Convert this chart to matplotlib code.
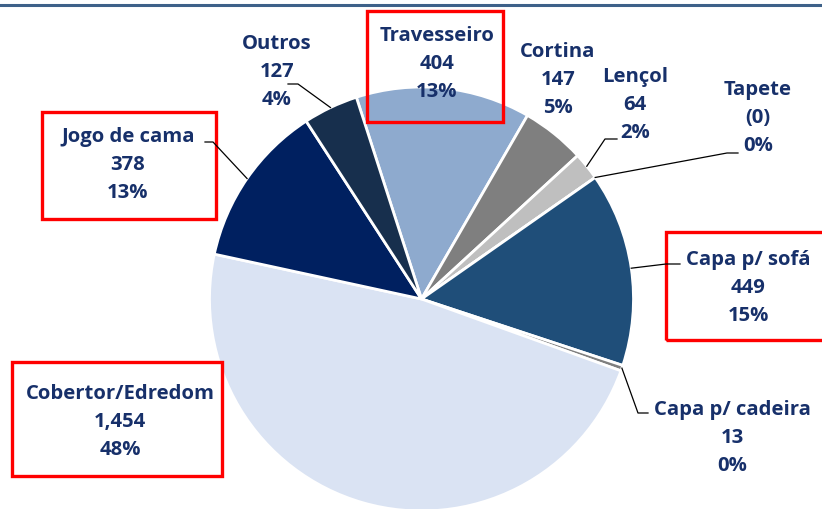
import numpy as np
import matplotlib.pyplot as plt
from matplotlib.patches import Rectangle
from matplotlib.lines import Line2D

categories = ["Travesseiro", "Cortina", "Lençol", "Tapete", "Capa p/ sofá",
              "Capa p/ cadeira", "Cobertor/Edredom", "Jogo de cama", "Outros"]
values = [404, 147, 64, 0, 449, 13, 1454, 378, 127]
percents = [13, 5, 2, 0, 15, 0, 48, 13, 4]
colors = ["#8EAACE", "#7F7F7F", "#BFBFBF", "#A6A6A6", "#1F4E79",
          "#7F7F7F", "#DAE3F3", "#002060", "#172F4D"]

W, H = 822, 510
text_color = "#17306A"

fig = plt.figure(figsize=(W / 100, H / 100), dpi=100)
ax = fig.add_axes([0, 0, 1, 1])

cx, cy, r = 421.5, H - 300, 212
wedges, _ = ax.pie(values, colors=colors, startangle=107.9, counterclock=False,
                   center=(cx, cy), radius=r,
                   wedgeprops=dict(edgecolor="white", linewidth=2))
ax.set_xlim(0, W)
ax.set_ylim(0, H)
ax.set_aspect("equal")
ax.axis("off")

# label centre (pixel, from top) and leader elbow points
label_pos = {
    "Travesseiro": (437, 64),
    "Cortina": (558, 80),
    "Lençol": (635, 105),
    "Tapete": (758, 118),
    "Capa p/ sofá": (748, 288),
    "Capa p/ cadeira": (732, 438),
    "Cobertor/Edredom": (120, 422),
    "Jogo de cama": (128, 165),
    "Outros": (277, 72),
}
leaders = {
    "Outros": [(288, 85), (298, 85)],
    "Jogo de cama": [(205, 143), (213, 143)],
    "Lençol": [(617, 140), (605, 140)],
    "Tapete": [(738, 154), (727, 154)],
    "Capa p/ sofá": [(680, 265), (666, 265)],
    "Capa p/ cadeira": [(648, 414), (638, 414)],
}
boxes = {
    "Travesseiro": (367, 12, 503, 123),
    "Jogo de cama": (42, 113, 216, 220),
    "Capa p/ sofá": (666, 233, 830, 341),
    "Cobertor/Edredom": (12, 363, 222, 477),
}

for w, name, v, p in zip(wedges, categories, values, percents):
    vtxt = f"{v:,}" if v else "(0)"
    txt = f"{name}\n{vtxt}\n{p}%"
    x, y = label_pos[name]
    ax.text(x, H - y, txt, ha="center", va="center", color=text_color,
            fontsize=14.6, fontweight="bold", family=["Open Sans", "DejaVu Sans"],
            linespacing=1.55)
    if name in leaders:
        ang = np.deg2rad((w.theta1 + w.theta2) / 2)
        ax_pt = (cx + r * np.cos(ang), cy + r * np.sin(ang))
        pts = leaders[name]
        xs = [pts[0][0], pts[1][0], ax_pt[0]]
        ys = [H - pts[0][1], H - pts[1][1], ax_pt[1]]
        ax.plot(xs, ys, color="black", lw=0.9, clip_on=False)
    if name in boxes:
        x0, y0, x1, y1 = boxes[name]
        ax.add_patch(Rectangle((x0, H - y1), x1 - x0, y1 - y0, fill=False,
                               edgecolor="#FF0000", lw=2.4, clip_on=False))

fig.add_artist(Line2D([0, 1], [1 - 6 / H, 1 - 6 / H], color="#3E6189",
                      lw=2.2, transform=fig.transFigure))

fig.savefig("out.png", dpi=100)
